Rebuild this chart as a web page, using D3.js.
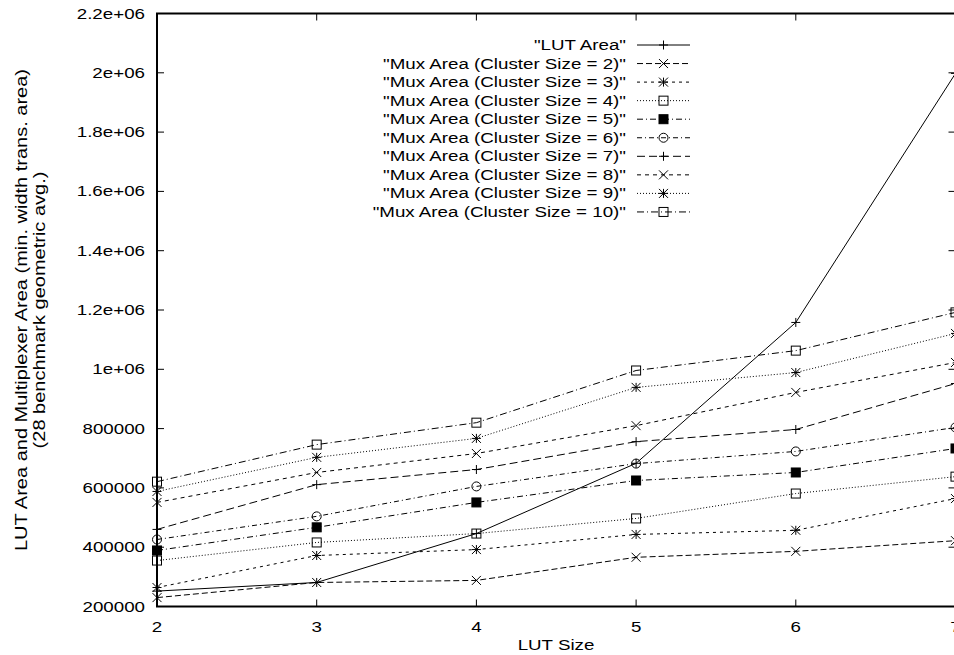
<!DOCTYPE html>
<html>
<head>
<meta charset="utf-8">
<script src="https://cdn.jsdelivr.net/npm/d3@7"></script>
<style>
    html, body { margin: 0; padding: 0; background: white; }
    svg { display: block; }
    text { font-family: "Liberation Sans", Arial, Helvetica, sans-serif; font-size: 15px; fill: black; }
    text.ylabel { font-size: 16px; }
</style>
</head>
<body>
<svg id="chart" width="954" height="655"></svg>
<script>
// Data
const lutSizes = [2, 3, 4, 5, 6, 7];
const lutArea = [252000, 281000, 446000, 683000, 1158000, 1998000];
const mux2  = [230000, 281000, 288000, 366000, 386000, 422000];
const mux3  = [264000, 372000, 392000, 443000, 457000, 564000];
const mux4  = [355000, 416000, 446000, 497000, 581000, 638000];
const mux5  = [389000, 467000, 551000, 625000, 652000, 733000];
const mux6  = [426000, 504000, 605000, 682000, 723000, 804000];
const mux7  = [460000, 611000, 662000, 756000, 797000, 952000];
const mux8  = [551000, 652000, 716000, 810000, 922000, 1023000];
const mux9  = [588000, 703000, 767000, 939000, 989000, 1121000];
const mux10 = [621000, 746000, 820000, 996000, 1063000, 1192000];
const seriesNames = [
    '"LUT Area"',
    '"Mux Area (Cluster Size = 2)"',
    '"Mux Area (Cluster Size = 3)"',
    '"Mux Area (Cluster Size = 4)"',
    '"Mux Area (Cluster Size = 5)"',
    '"Mux Area (Cluster Size = 6)"',
    '"Mux Area (Cluster Size = 7)"',
    '"Mux Area (Cluster Size = 8)"',
    '"Mux Area (Cluster Size = 9)"',
    '"Mux Area (Cluster Size = 10)"'
];
const seriesValues = [lutArea, mux2, mux3, mux4, mux5, mux6, mux7, mux8, mux9, mux10];
const yTicks = [200000, 400000, 600000, 800000, 1000000, 1200000, 1400000, 1600000, 1800000, 2000000, 2200000];
const yTickLabels = ['200000', '400000', '600000', '800000', '1e+06', '1.2e+06', '1.4e+06', '1.6e+06', '1.8e+06', '2e+06', '2.2e+06'];

// Constants
const LEFT = 157, RIGHT = 955.5, TOP = 13.5, BOTTOM = 606.5;
const SX = 1.25;   // gnuplot text looks horizontally stretched
const TICK = 7;
const DASHES = [null, '6,3', '3,4', '1,2', '6,3,1,3', '5,3,1,3', '8,4', '4,4', '1,2', '7,3,1,3'];
const MARKERS = ['plus', 'cross', 'star', 'box', 'fbox', 'circle', 'plus', 'cross', 'star', 'box'];

const svg = d3.select('#chart');

const x = d3.scaleLinear().domain([2, 7]).range([LEFT, RIGHT]);
const y = d3.scaleLinear().domain([200000, 2200000]).range([BOTTOM, TOP]);

function label(g, tx, ty, str, anchor, rot) {
    return g.append('text')
        .attr('transform', 'translate(' + tx + ',' + ty + ')' + (rot ? ' rotate(' + rot + ')' : '') + ' scale(' + SX + ',1)')
        .attr('text-anchor', anchor)
        .text(str);
}

function marker(g, type, cx, cy) {
    const s = 4.5;
    const m = g.append('g').attr('transform', 'translate(' + cx + ',' + cy + ')')
        .attr('stroke', 'black').attr('stroke-width', 1).attr('fill', 'none');
    if (type === 'plus' || type === 'star') {
        m.append('path').attr('d', 'M' + (-s) + ',0H' + s + 'M0,' + (-s) + 'V' + s);
    }
    if (type === 'cross' || type === 'star') {
        m.append('path').attr('d', 'M' + (-s) + ',' + (-s) + 'L' + s + ',' + s + 'M' + (-s) + ',' + s + 'L' + s + ',' + (-s));
    }
    if (type === 'box') {
        m.append('rect').attr('x', -s).attr('y', -s).attr('width', 2 * s).attr('height', 2 * s);
    }
    if (type === 'fbox') {
        m.append('rect').attr('x', -s).attr('y', -s).attr('width', 2 * s).attr('height', 2 * s).attr('fill', 'black');
    }
    if (type === 'circle') {
        m.append('circle').attr('r', s);
    }
}

// Ticks (inward, mirrored)
const axes = svg.append('g').attr('stroke', 'black').attr('stroke-width', 1);
yTicks.forEach((v) => {
    axes.append('line').attr('x1', LEFT).attr('x2', LEFT + TICK).attr('y1', y(v)).attr('y2', y(v));
    axes.append('line').attr('x1', RIGHT).attr('x2', RIGHT - TICK).attr('y1', y(v)).attr('y2', y(v));
});
lutSizes.forEach((v) => {
    axes.append('line').attr('x1', x(v)).attr('x2', x(v)).attr('y1', BOTTOM).attr('y2', BOTTOM - TICK);
    axes.append('line').attr('x1', x(v)).attr('x2', x(v)).attr('y1', TOP).attr('y2', TOP + TICK);
});

// Tick labels
const labels = svg.append('g');
yTicks.forEach((v, i) => label(labels, LEFT - 12, y(v) + 5, yTickLabels[i], 'end'));
lutSizes.forEach((v) => label(labels, x(v), BOTTOM + 25, String(v), 'middle'));
label(labels, (LEFT + 955) / 2, 650, 'LUT Size', 'middle');
label(labels, 27, (TOP + BOTTOM) / 2, 'LUT Area and Multiplexer Area (min. width trans. area)', 'middle', -90)
    .attr('class', 'ylabel');
label(labels, 45, (TOP + BOTTOM) / 2, '(28 benchmark geometric avg.)', 'middle', -90)
    .attr('class', 'ylabel');

// Series
const line = d3.line().x((d, i) => x(lutSizes[i])).y((d) => y(d));
const series = svg.append('g');
seriesValues.forEach((vals, k) => {
    series.append('path')
        .attr('d', line(vals))
        .attr('fill', 'none')
        .attr('stroke', 'black')
        .attr('stroke-width', 1)
        .attr('stroke-dasharray', DASHES[k]);
    vals.forEach((v, i) => marker(series, MARKERS[k], x(lutSizes[i]), y(v)));
});

// Legend
const legend = svg.append('g');
seriesNames.forEach((name, k) => {
    const ly = 45 + k * 18.55;
    label(legend, 626, ly + 5, name, 'end');
    legend.append('line')
        .attr('x1', 637).attr('x2', 690).attr('y1', ly).attr('y2', ly)
        .attr('stroke', 'black').attr('stroke-width', 1)
        .attr('stroke-dasharray', DASHES[k]);
    marker(legend, MARKERS[k], 663.5, ly);
});

// Border
svg.append('rect')
    .attr('x', LEFT).attr('y', TOP)
    .attr('width', RIGHT - LEFT).attr('height', BOTTOM - TOP)
    .attr('fill', 'none').attr('stroke', 'black').attr('stroke-width', 2);
</script>
</body>
</html>
